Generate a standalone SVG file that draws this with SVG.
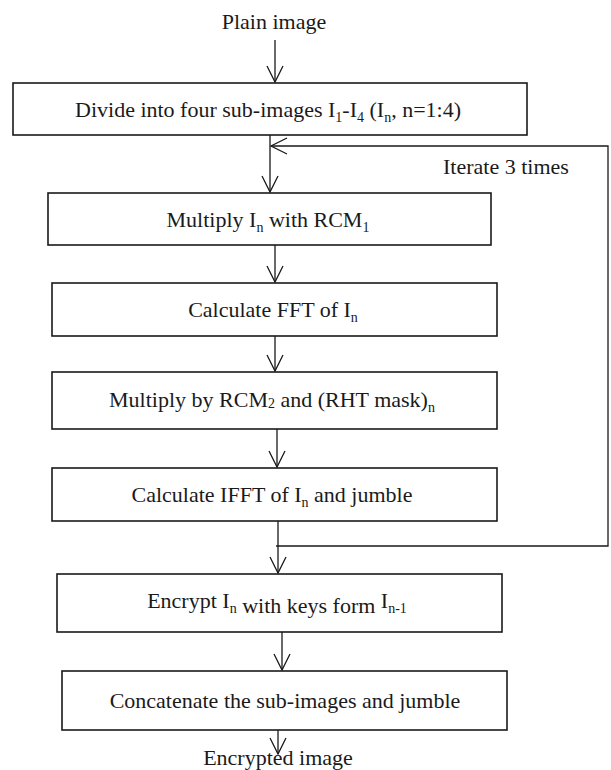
<svg xmlns="http://www.w3.org/2000/svg" width="611" height="770" viewBox="0 0 611 770">
<style>
  .box { fill: #ffffff; stroke: #1a1a1a; stroke-width: 1.6; }
  .t { font-family: "Liberation Serif", "Times New Roman", serif; font-size: 22px; fill: #1a1a1a; text-anchor: middle; }
  .ts { font-size: 14px; }
  .conn { fill: none; stroke: #1a1a1a; stroke-width: 1.3; }
</style>
<defs>
  <marker id="arr" markerUnits="userSpaceOnUse" markerWidth="20" markerHeight="20" viewBox="-18 -10 20 20" refX="0" refY="0" orient="auto">
    <path d="M-16,-8 L0,0 L-16,8" fill="none" stroke="#1a1a1a" stroke-width="1.3"/>
  </marker>
</defs>
<rect width="611" height="770" fill="#ffffff"/>

<g id="connectors">
  <line class="conn" x1="275" y1="40" x2="275" y2="82" marker-end="url(#arr)"/>
  <line class="conn" x1="270" y1="135" x2="270" y2="192" marker-end="url(#arr)"/>
  <line class="conn" x1="275" y1="245" x2="275" y2="282" marker-end="url(#arr)"/>
  <line class="conn" x1="275" y1="336" x2="275" y2="371" marker-end="url(#arr)"/>
  <line class="conn" x1="277" y1="429" x2="277" y2="467" marker-end="url(#arr)"/>
  <line class="conn" x1="278" y1="521" x2="278" y2="573" marker-end="url(#arr)"/>
  <line class="conn" x1="282" y1="632" x2="282" y2="670" marker-end="url(#arr)"/>
  <line class="conn" x1="278" y1="730" x2="278" y2="754" marker-end="url(#arr)"/>
  <path class="conn" d="M276,546 L608,546 L608,146 L271,146" marker-end="url(#arr)"/>
</g>

<g id="plain-image">
  <text class="t" x="274" y="29">Plain image</text>
</g>

<g id="divide">
  <rect class="box" x="13" y="83" width="514" height="52"/>
  <text class="t" x="268" y="117">Divide into four sub-images I<tspan class="ts" dy="5">1</tspan><tspan dy="-5">-I</tspan><tspan class="ts" dy="5">4</tspan><tspan dy="-5"> (I</tspan><tspan class="ts" dy="5">n</tspan><tspan dy="-5">, n=1:4)</tspan></text>
</g>

<g id="iterate-label">
  <text class="t" x="443" y="174" style="text-anchor:start">Iterate 3 times</text>
</g>

<g id="multiply-rcm1">
  <rect class="box" x="48" y="193" width="443" height="52"/>
  <text class="t" x="268" y="227">Multiply I<tspan class="ts" dy="5">n</tspan><tspan dy="-5"> with RCM</tspan><tspan class="ts" dy="5">1</tspan></text>
</g>

<g id="fft">
  <rect class="box" x="52" y="283" width="445" height="53"/>
  <text class="t" x="273" y="317">Calculate FFT of I<tspan class="ts" dy="5">n</tspan></text>
</g>

<g id="multiply-rcm2">
  <rect class="box" x="52" y="372" width="445" height="57"/>
  <text class="t" x="272" y="407">Multiply by RCM<tspan class="ts" dy="1">2</tspan><tspan dy="-1"> and (RHT mask)</tspan><tspan class="ts" dy="5">n</tspan></text>
</g>

<g id="ifft">
  <rect class="box" x="52" y="468" width="445" height="53"/>
  <text class="t" x="272" y="502">Calculate IFFT of I<tspan class="ts" dy="5">n</tspan><tspan dy="-5"> and jumble</tspan></text>
</g>

<g id="encrypt">
  <rect class="box" x="57" y="574" width="445" height="58"/>
  <text class="t" x="277" y="608">Encrypt I<tspan class="ts" dy="5">n</tspan><tspan> with keys form </tspan><tspan dy="-5">I</tspan><tspan class="ts" dy="5">n-1</tspan></text>
</g>

<g id="concatenate">
  <rect class="box" x="62" y="671" width="445" height="59"/>
  <text class="t" x="285" y="708">Concatenate the sub-images and jumble</text>
</g>

<g id="encrypted-image">
  <text class="t" x="278" y="765">Encrypted image</text>
</g>
</svg>
